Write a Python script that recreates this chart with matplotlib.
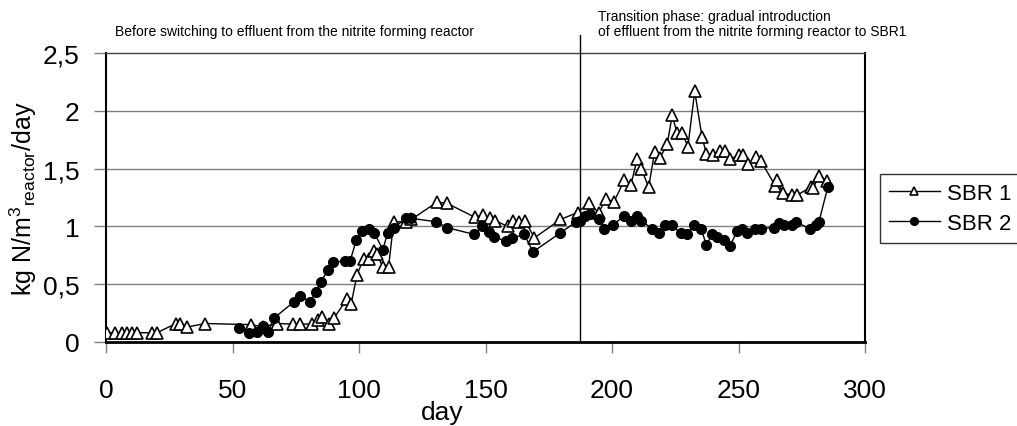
import matplotlib
matplotlib.use("Agg")
import matplotlib.pyplot as plt

plt.rcParams['font.family'] = ['Liberation Sans', 'DejaVu Sans']
plt.rcParams['mathtext.fontset'] = 'custom'
plt.rcParams['mathtext.rm'] = 'Liberation Sans'
plt.rcParams['mathtext.it'] = 'Liberation Sans'

# SBR 1 (open triangles)
dag1 = [0.4, 3.6, 6.2, 8.2, 10.2, 12.1, 18.1, 20.1, 27.7, 29.3, 32.2, 39.2,
        57.4, 62.0, 67.5, 74.0, 76.7, 81.3, 83.6, 85.3, 88.3, 90.2, 95.2, 96.9,
        99.2, 101.8, 103.8, 106.1, 107.0, 109.4, 111.7, 113.7, 118.7, 120.7,
        130.8, 134.8, 145.7, 149.0, 151.6, 153.9, 158.7, 160.9, 163.1, 165.7,
        169.3, 179.6, 186.4, 190.8, 194.7, 197.8, 200.7, 204.9, 207.5, 209.9,
        211.5, 214.5, 216.8, 218.9, 221.8, 223.8, 225.7, 227.7, 230.0, 232.7,
        235.6, 237.3, 239.8, 242.6, 244.5, 246.8, 250.1, 251.8, 253.8, 257.1,
        258.7, 264.6, 265.3, 267.6, 271.2, 273.2, 278.5, 279.5, 281.8, 285.1]
sbr1 = [0.08, 0.08, 0.08, 0.08, 0.08, 0.08, 0.08, 0.08, 0.16, 0.16, 0.13, 0.16,
        0.15, 0.13, 0.16, 0.155, 0.155, 0.155, 0.19, 0.22, 0.16, 0.21, 0.37, 0.33,
        0.58, 0.72, 0.72, 0.79, 0.76, 0.65, 0.65, 1.04, 1.04, 1.06,
        1.21, 1.20, 1.08, 1.10, 1.07, 1.05, 1.00, 1.05, 1.04, 1.05,
        0.90, 1.06, 1.12, 1.20, 1.12, 1.24, 1.21, 1.40, 1.36, 1.58,
        1.50, 1.34, 1.64, 1.59, 1.71, 1.96, 1.81, 1.81, 1.69, 2.17,
        1.77, 1.63, 1.62, 1.65, 1.65, 1.58, 1.62, 1.62, 1.54, 1.60,
        1.57, 1.35, 1.40, 1.29, 1.27, 1.27, 1.34, 1.33, 1.44, 1.39]

# SBR 2 (filled circles)
dag2 = [52.7, 56.7, 59.6, 62.0, 64.0, 66.6, 74.4, 76.5, 80.7, 82.9, 84.9, 87.7,
        89.7, 94.5, 96.5, 98.9, 101.1, 103.8, 106.1, 109.4, 111.3, 113.7, 118.7,
        120.6, 130.5, 134.8, 145.6, 148.6, 151.2, 153.5, 158.2, 160.5, 165.3,
        168.8, 179.3, 185.9, 187.5, 189.5, 191.2, 194.7, 197.0, 200.4, 204.6,
        207.5, 209.7, 211.6, 215.8, 218.5, 221.1, 223.8, 227.1, 229.7, 232.3,
        235.2, 237.3, 239.6, 241.6, 244.2, 246.6, 249.5, 251.2, 253.4, 256.7,
        258.7, 264.0, 266.0, 267.9, 271.2, 272.6, 278.2, 280.5, 281.8, 285.3]
sbr2 = [0.12, 0.08, 0.09, 0.14, 0.09, 0.21, 0.35, 0.40, 0.35, 0.43, 0.52, 0.62,
        0.69, 0.70, 0.70, 0.88, 0.96, 0.98, 0.94, 0.80, 0.94, 0.99, 1.07,
        1.07, 1.04, 0.99, 0.93, 1.00, 0.95, 0.91, 0.87, 0.90, 0.93,
        0.78, 0.94, 1.04, 1.05, 1.09, 1.11, 1.06, 0.98, 1.01, 1.09,
        1.05, 1.09, 1.05, 0.98, 0.94, 1.01, 1.01, 0.94, 0.93, 1.01,
        0.98, 0.84, 0.93, 0.91, 0.88, 0.83, 0.96, 0.98, 0.94, 0.98,
        0.98, 0.99, 1.03, 1.01, 1.01, 1.04, 0.98, 1.01, 1.04, 1.34]

yticks = [0, 0.5, 1, 1.5, 2, 2.5]
ytick_labels = ['0', '0,5', '1', '1,5', '2', '2,5']
xticks = [0, 50, 100, 150, 200, 250, 300]
skifte = 187.5

W, H = 1017, 427
fig = plt.figure(figsize=(W / 100, H / 100), dpi=100)
ax = fig.add_axes([106 / W, 1 - 343 / H, (865 - 106) / W, (343 - 54) / H])

for y in [0.5, 1, 1.5, 2]:
    ax.axhline(y, color='#808080', lw=1, zorder=1)

ax.plot(dag1, sbr1, color='black', lw=1, marker='^', ms=8, mfc='white',
        mec='black', mew=1.2, label='SBR 1', zorder=3)
ax.plot(dag2, sbr2, color='black', lw=1, marker='o', ms=7, mfc='black',
        mec='black', label='SBR 2', zorder=4)

ax.plot([skifte, skifte], [0, 2.66], color='black', lw=1, clip_on=False, zorder=5)

ax.set_xlim(0, 300)
ax.set_ylim(0, 2.5)
ax.set_xticks(xticks)
ax.set_yticks(yticks)
ax.set_yticklabels(ytick_labels)
ax.tick_params(axis='y', direction='out', length=9, width=1, color='#808080',
               labelsize=19, pad=10)
ax.tick_params(axis='x', direction='out', length=8, width=1, color='#808080',
               labelsize=19, pad=18)

ax.spines['left'].set_linewidth(1.5)
ax.spines['bottom'].set_linewidth(2)
ax.spines['right'].set_linewidth(1.5)
ax.spines['top'].set_linewidth(1)
ax.spines['top'].set_color('#404040')

ax.set_xlabel('day', fontsize=19, labelpad=0)
ax.xaxis.set_label_coords(0.443, -0.2)
ax.set_ylabel(r'kg N/m$^{3}{}_{\mathrm{reactor}}$/day', fontsize=18)
ax.yaxis.set_label_coords(-0.088, 0.5)

fig.text(115 / W, 1 - 36 / H, 'Before switching to effluent from the nitrite forming reactor',
         fontsize=10, va='baseline', ha='left')
fig.text(598 / W, 1 - 21 / H, 'Transition phase: gradual introduction',
         fontsize=10, va='baseline', ha='left')
fig.text(598 / W, 1 - 36 / H, 'of effluent from the nitrite forming reactor to SBR1',
         fontsize=10, va='baseline', ha='left')

leg = ax.legend(loc='center left', bbox_to_anchor=(880 / W, 1 - 209.5 / H),
                bbox_transform=fig.transFigure, fontsize=16, frameon=True,
                fancybox=False, edgecolor='black', handlelength=2.3,
                handletextpad=0.3, borderpad=0.4, labelspacing=0.4,
                borderaxespad=0, markerscale=0.8)
leg.get_frame().set_linewidth(1)

fig.savefig('out.png', dpi=100)
